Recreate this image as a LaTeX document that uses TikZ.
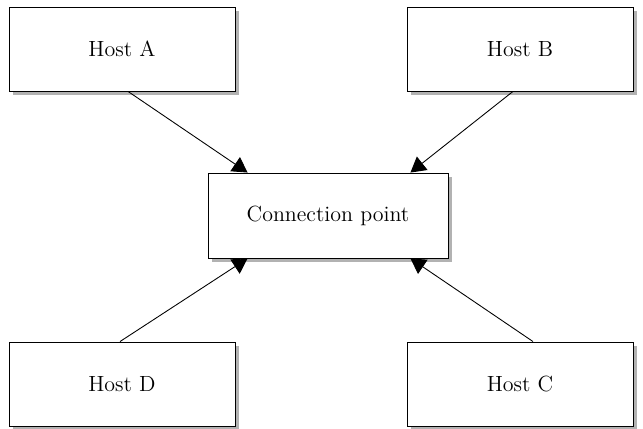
\documentclass[tikz,border=0pt]{standalone}
\usepackage{tikz}
\usetikzlibrary{arrows.meta,positioning,calc,shadows}
\begin{document}
\begin{tikzpicture}[>={Triangle[length=0.3cm,width=0.34cm]},line width=0.5pt,
  box/.style={rectangle,draw,fill=white,minimum width=4.52cm,minimum height=1.68cm,
    font=\fontsize{12.5}{15}\selectfont,
    drop shadow={shadow xshift=0.08cm,shadow yshift=-0.08cm,fill=black!30,opacity=1}}]
  \useasboundingbox (0,0) rectangle (12.86,8.58);
  \node[box](hA)at(2.44,7.60){Host A};\node[box](hB)at(10.40,7.60){Host B};
  \node[box](hD)at(2.44,0.90){Host D};\node[box](hC)at(10.40,0.90){Host C};
  \node[box,minimum width=4.8cm,minimum height=1.7cm](cp)at(6.56,4.27){Connection point};
  \draw[->]([xshift=0.12cm]hA.south)--([xshift=0.8cm]cp.north west);
  \draw[->]([xshift=-0.14cm]hB.south)--([xshift=-0.76cm]cp.north east);
  \draw[->]([xshift=-0.04cm]hD.north)--([xshift=0.8cm]cp.south west);
  \draw[->]([xshift=0.26cm]hC.north)--([xshift=-0.76cm]cp.south east);
\end{tikzpicture}
\end{document}
